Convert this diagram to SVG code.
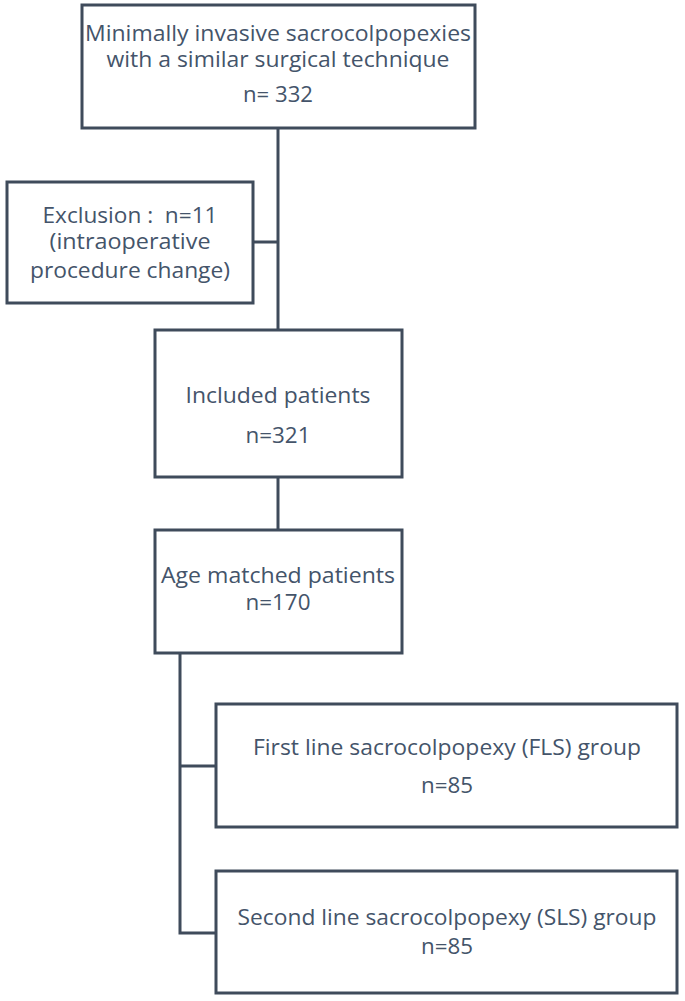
<svg xmlns="http://www.w3.org/2000/svg" width="685" height="1001" viewBox="0 0 685 1001">
<style>
.box{fill:#ffffff;stroke:#3f4b5b;stroke-width:3}
.ln{fill:none;stroke:#3f4b5b;stroke-width:3}
text{font-family:"Open Sans","Liberation Sans",sans-serif;font-size:21px;fill:#44546a;text-anchor:middle;white-space:pre}
</style>
<rect width="685" height="1001" fill="#ffffff"/>
<g id="connectors">
<path class="ln" d="M278,128 V330"/>
<path class="ln" d="M253,242 H278"/>
<path class="ln" d="M278,477 V530"/>
<path class="ln" d="M180,653 V933 H216"/>
<path class="ln" d="M180,766 H216"/>
</g>
<g id="n1">
<rect class="box" x="82" y="5" width="393" height="123"/>
<text x="278" y="41" textLength="386" lengthAdjust="spacingAndGlyphs">Minimally invasive sacrocolpopexies</text>
<text x="278" y="67" textLength="343" lengthAdjust="spacingAndGlyphs">with a similar surgical technique</text>
<text x="278" y="102" textLength="70" lengthAdjust="spacingAndGlyphs">n= 332</text>
</g>
<g id="n2">
<rect class="box" x="7" y="182" width="246" height="121"/>
<text x="130" y="223" textLength="175" lengthAdjust="spacingAndGlyphs" xml:space="preserve">Exclusion :  n=11</text>
<text x="130" y="249" textLength="161" lengthAdjust="spacingAndGlyphs">(intraoperative</text>
<text x="130" y="278" textLength="200" lengthAdjust="spacingAndGlyphs">procedure change)</text>
</g>
<g id="n3">
<rect class="box" x="155" y="330" width="247" height="147"/>
<text x="278" y="403" textLength="185" lengthAdjust="spacingAndGlyphs">Included patients</text>
<text x="278" y="443" textLength="65" lengthAdjust="spacingAndGlyphs">n=321</text>
</g>
<g id="n4">
<rect class="box" x="155" y="530" width="247" height="123"/>
<text x="278" y="583" textLength="234" lengthAdjust="spacingAndGlyphs">Age matched patients</text>
<text x="278" y="610" textLength="65" lengthAdjust="spacingAndGlyphs">n=170</text>
</g>
<g id="n5">
<rect class="box" x="216" y="704" width="461" height="123"/>
<text x="447" y="755" textLength="388" lengthAdjust="spacingAndGlyphs">First line sacrocolpopexy (FLS) group</text>
<text x="447" y="793" textLength="52" lengthAdjust="spacingAndGlyphs">n=85</text>
</g>
<g id="n6">
<rect class="box" x="216" y="871" width="461" height="122"/>
<text x="447" y="925" textLength="419" lengthAdjust="spacingAndGlyphs">Second line sacrocolpopexy (SLS) group</text>
<text x="447" y="954" textLength="52" lengthAdjust="spacingAndGlyphs">n=85</text>
</g>
</svg>
